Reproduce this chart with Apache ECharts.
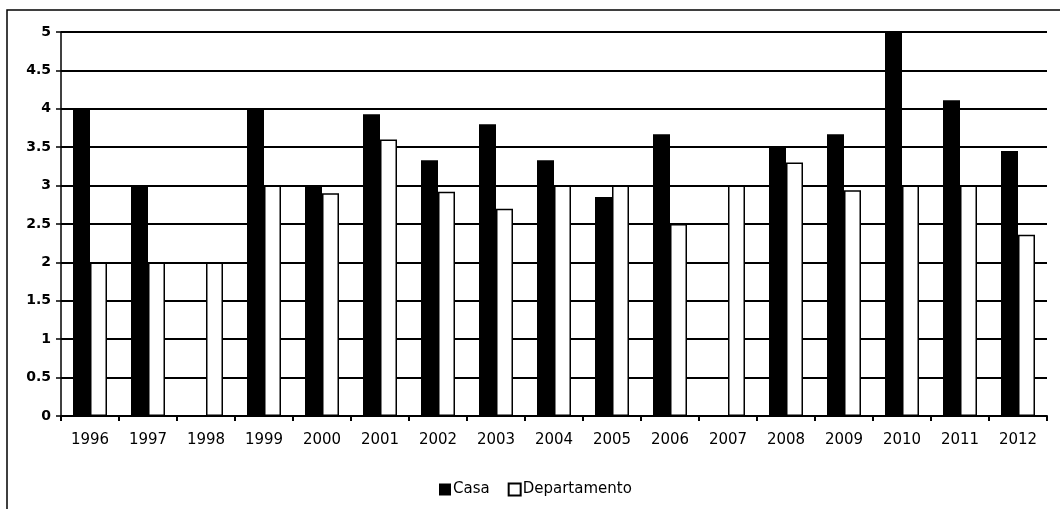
<!DOCTYPE html>
<html>
<head>
<meta charset="utf-8">
<script src="https://cdn.jsdelivr.net/npm/echarts@6/dist/echarts.min.js"></script>
<style>
html,body{margin:0;padding:0;background:#fff;}
#c{width:1060px;height:509px;}
</style>
</head>
<body>
<div id="c"></div>
<script>
const categories = ['1996','1997','1998','1999','2000','2001','2002','2003','2004','2005','2006','2007','2008','2009','2010','2011','2012'];
const casa = [4, 3, 0, 4, 3, 3.93, 3.33, 3.8, 3.33, 2.85, 3.67, 0, 3.5, 3.67, 5, 4.11, 3.45];
const departamento = [2, 2, 2, 3, 2.9, 3.6, 2.92, 2.7, 3, 3, 2.5, 3, 3.3, 2.94, 3, 3, 2.36];
const seriesNames = ['Casa', 'Departamento'];

const chart = echarts.init(document.getElementById('c'));
const font = '"DejaVu Sans", "Liberation Sans", sans-serif';
chart.setOption({
  animation: false,
  backgroundColor: '#fff',
  graphic: [{
    type: 'rect',
    shape: {x: 7, y: 10, width: 1100, height: 600},
    style: {fill: 'none', stroke: '#000', lineWidth: 1.5},
    silent: true,
    z: -10
  }],
  grid: {left: 61, right: 13, top: 32, bottom: 93},
  legend: {
    data: seriesNames,
    left: 439,
    top: 482,
    padding: 0,
    itemWidth: 12,
    itemHeight: 12,
    itemGap: 18,
    icon: 'rect',
    textStyle: {fontFamily: font, fontSize: 15, color: '#000', padding: [0, 0, 0, -3]}
  },
  xAxis: {
    type: 'category',
    data: categories,
    axisLine: {lineStyle: {color: '#000', width: 2}},
    axisTick: {show: true, length: 5, lineStyle: {color: '#000', width: 2}},
    axisLabel: {fontFamily: font, fontSize: 15, color: '#000', margin: 17}
  },
  yAxis: {
    type: 'value',
    min: 0, max: 5, interval: 0.5,
    axisLine: {show: true, lineStyle: {color: '#000', width: 1.5}},
    axisTick: {show: true, length: 5, lineStyle: {color: '#000', width: 1.5}},
    axisLabel: {fontFamily: font, fontSize: 14, fontWeight: 'bold', color: '#000', margin: 10},
    splitLine: {lineStyle: {color: '#000', width: 2}}
  },
  series: [
    {
      name: seriesNames[0],
      type: 'bar',
      data: casa,
      barWidth: 17,
      barGap: '0%',
      itemStyle: {color: '#000', borderColor: '#000', borderWidth: 0}
    },
    {
      name: seriesNames[1],
      type: 'bar',
      data: departamento,
      barWidth: 17,
      barGap: '0%',
      itemStyle: {color: '#fff', borderColor: '#000', borderWidth: 1.5}
    }
  ]
});
</script>
</body>
</html>
